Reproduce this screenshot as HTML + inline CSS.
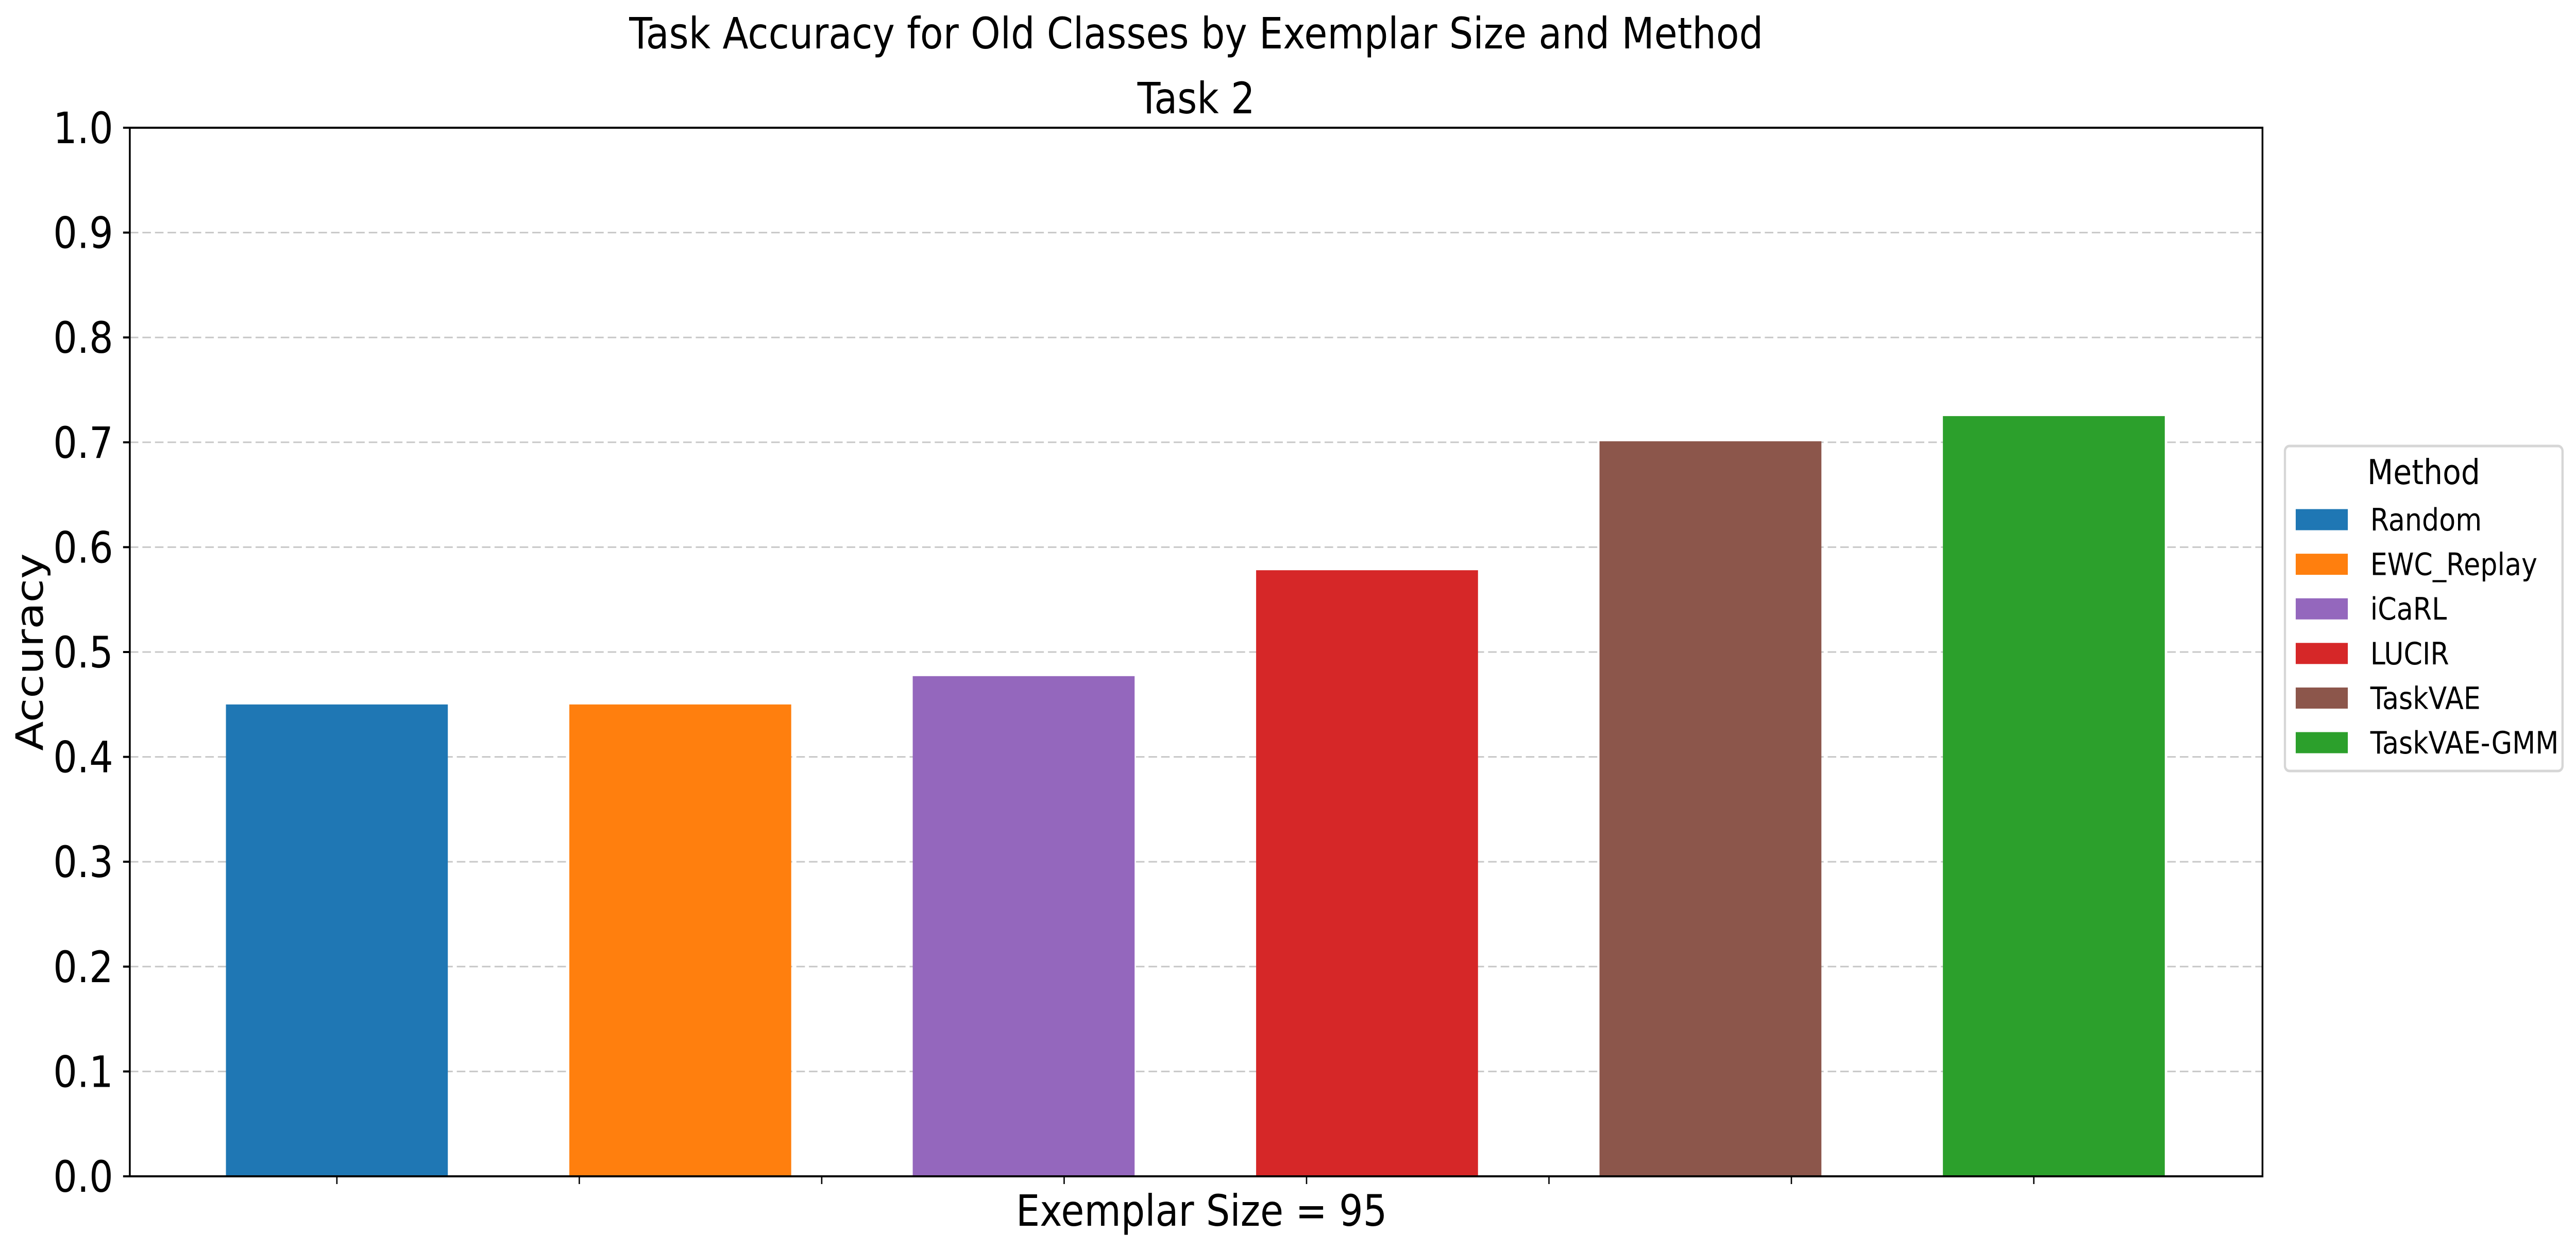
<!DOCTYPE html>
<html><head><meta charset="utf-8"><style>
html,body{margin:0;padding:0;background:#fff;overflow:hidden;width:100%;height:100%;}
svg{display:block;position:fixed;left:0;top:0;width:100vw;height:100vh;font-family:"DejaVu Sans","Liberation Sans",sans-serif;}
</style></head><body>
<svg id="chart" viewBox="0 0 5735 2429" preserveAspectRatio="none" xmlns="http://www.w3.org/2000/svg">
<rect width="5735" height="2429" fill="#fff"/>
<text x="2663" y="94" font-size="84" text-anchor="middle">Task Accuracy for Old Classes by Exemplar Size and Method</text>
<text x="2663" y="220" font-size="84" text-anchor="middle">Task 2</text>
<g id="grid"></g>
<g id="bars"></g>
<g id="yaxis"></g>
<g id="xaxis"></g>
<rect x="289" y="248" width="4748" height="2036" fill="none" stroke="#000" stroke-width="4"/>
<text x="2675" y="2380" font-size="84" text-anchor="middle">Exemplar Size = 95</text>
<text x="95" y="1266" font-size="84" text-anchor="middle" transform="rotate(-90 95 1266)">Accuracy</text>
<g id="legend">
<rect x="5087" y="866" width="618" height="631" rx="10" fill="#fff" stroke="#d6d6d6" stroke-width="5"/>
<text x="5396" y="940" font-size="67" text-anchor="middle">Method</text>
</g>
</svg>
<script>
const methods = ["Random","EWC_Replay","iCaRL","LUCIR","TaskVAE","TaskVAE-GMM"];
const accuracy = [0.450, 0.450, 0.477, 0.578, 0.701, 0.725];
const colors = ["#1f77b4","#ff7f0e","#9467bd","#d62728","#8c564b","#2ca02c"];
const yTicks = [0,0.1,0.2,0.3,0.4,0.5,0.6,0.7,0.8,0.9,1.0];
const yTickLabels = ["0.0","0.1","0.2","0.3","0.4","0.5","0.6","0.7","0.8","0.9","1.0"];
const xTickCount = 8;

const NS = "http://www.w3.org/2000/svg";
const L=289, R=5037, T=248, B=2284;
const yScale = v => B - (v-0)/(1-0)*(B-T);
const firstCenter=750, step=764.5, barW=494;
const xScale = i => firstCenter + i*step;
function mk(tag, attrs, parent){const e=document.createElementNS(NS,tag);for(const k in attrs)e.setAttribute(k,attrs[k]);parent.appendChild(e);return e;}

const grid=document.getElementById('grid'), yaxis=document.getElementById('yaxis'), xaxis=document.getElementById('xaxis'), bars=document.getElementById('bars'), legend=document.getElementById('legend');
yTicks.forEach((v,i)=>{
  const y=yScale(v);
  if(i>0&&i<yTicks.length-1){
    const g=mk('line',{x1:L,x2:R,y1:y,y2:y,stroke:'#c8c8c8','stroke-width':3,'stroke-dasharray':'19 9'},grid);
    
    
  }
  const t=mk('line',{x1:L-15,x2:L,y1:y,y2:y,stroke:'#000','stroke-width':4},yaxis);
  
  
  const lb=mk('text',{x:L-37,y:y+30,'font-size':84,'text-anchor':'end'},yaxis);
  lb.textContent=yTickLabels[i];
  
  
});
const xTickStep=539.7;
for(let i=0;i<xTickCount;i++){
  const x=firstCenter+i*xTickStep;
  const t=mk('line',{x1:x,x2:x,y1:B,y2:B+15,stroke:'#000','stroke-width':3},xaxis);
  
  
}
methods.forEach((m,i)=>{
  const cx=xScale(i), y=yScale(accuracy[i]);
  const r=mk('rect',{x:cx-barW/2,y:y,width:barW,height:B-y,fill:colors[i]},bars);
  
  
  const ly=1009+i*86.6;
  const p=mk('rect',{x:5111,y:ly-20.5,width:116,height:41,fill:colors[i]},legend);
  
  
  const tx=mk('text',{x:5277,y:ly+21,'font-size':60},legend);
  tx.textContent=m;
  
  
});
</script>
</body></html>
